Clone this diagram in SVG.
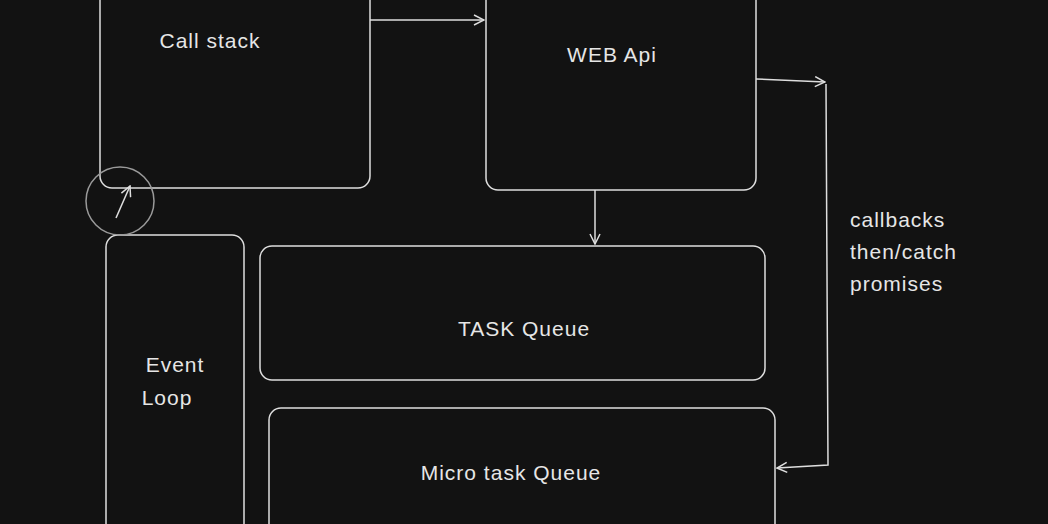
<svg xmlns="http://www.w3.org/2000/svg" width="1048" height="524" viewBox="0 0 1048 524">
<defs>
<style>
.b{fill:none;stroke:#dedede;stroke-width:1.5}
.t{fill:#e6e6e6;font-family:"Liberation Sans",sans-serif;font-size:21px;letter-spacing:1px}
</style>
<marker id="a" viewBox="0 0 12 12" refX="11" refY="6" markerWidth="12" markerHeight="12" orient="auto" markerUnits="userSpaceOnUse">
<path d="M1 1L11 6L1 11" fill="none" stroke="#dedede" stroke-width="1.5"/>
</marker>
</defs>
<rect width="1048" height="524" fill="#121212"/>
<g id="callstack"><rect class="b" x="100" y="-12" width="270" height="200" rx="12"/><text class="t" x="210" y="48" text-anchor="middle">Call stack</text></g>
<g id="webapi"><rect class="b" x="486" y="-12" width="270" height="202" rx="12"/><text class="t" x="612" y="62" text-anchor="middle">WEB Api</text></g>
<g id="taskqueue"><rect class="b" x="260" y="246" width="505" height="134" rx="12"/><text class="t" x="524" y="336" text-anchor="middle">TASK Queue</text></g>
<g id="microqueue"><rect class="b" x="269" y="408" width="506" height="130" rx="12"/><text class="t" x="511" y="480" text-anchor="middle">Micro task Queue</text></g>
<g id="eventloop"><rect class="b" x="106" y="235" width="138" height="300" rx="12"/><text class="t" x="175" y="372" text-anchor="middle">Event</text><text class="t" x="167" y="405" text-anchor="middle">Loop</text></g>
<g id="loopicon"><circle cx="120" cy="201" r="34" fill="none" stroke="#9a9a9a" stroke-width="1.5"/><line x1="116" y1="218" x2="130" y2="186" stroke="#dedede" stroke-width="1.5" marker-end="url(#a)"/></g>
<g id="connectors" class="b">
<line x1="370" y1="20" x2="484" y2="20" marker-end="url(#a)"/>
<line x1="595" y1="190" x2="595" y2="244" marker-end="url(#a)"/>
<line x1="756" y1="79" x2="825" y2="82" marker-end="url(#a)"/>
<polyline points="826,84 828,465 777,468" fill="none" marker-end="url(#a)"/>
</g>
<g id="label"><text class="t" x="850" y="227">callbacks</text><text class="t" x="850" y="259">then/catch</text><text class="t" x="850" y="291">promises</text></g>
</svg>
